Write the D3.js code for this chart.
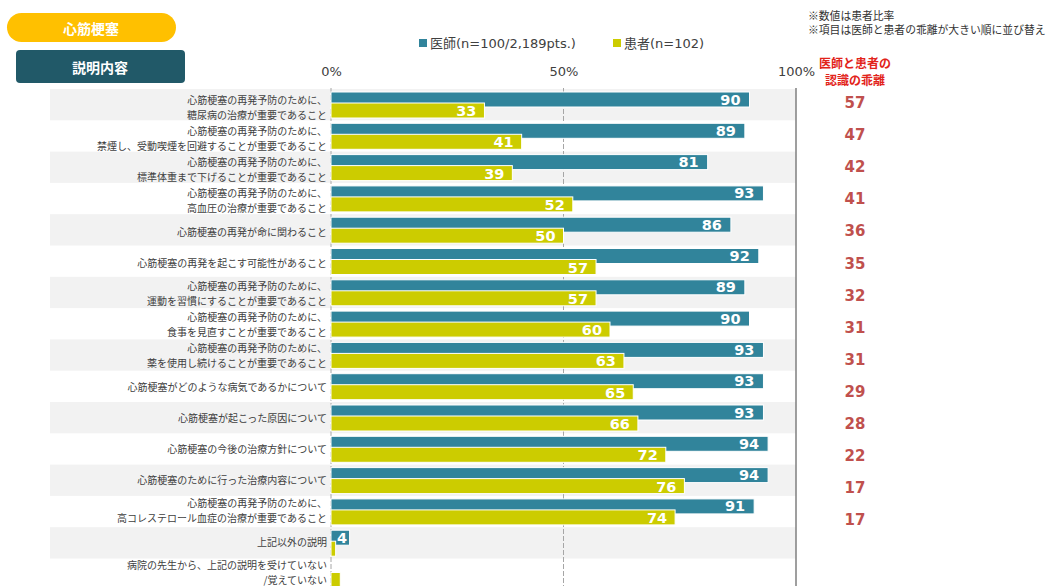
<!DOCTYPE html>
<html><head><meta charset="utf-8">
<script src="https://cdn.jsdelivr.net/npm/d3@7"></script>
<style>
html,body{margin:0;padding:0;background:#fff;}
svg{display:block;font-family:"DejaVu Sans","Noto Sans CJK JP",sans-serif;}
.cat{font-family:"Noto Sans CJK JP",sans-serif;}
</style></head>
<body>
<svg id="chart" width="1047" height="586"></svg>
<script>
const categories = [
  ["心筋梗塞の再発予防のために、","糖尿病の治療が重要であること"],
  ["心筋梗塞の再発予防のために、","禁煙し、受動喫煙を回避することが重要であること"],
  ["心筋梗塞の再発予防のために、","標準体重まで下げることが重要であること"],
  ["心筋梗塞の再発予防のために、","高血圧の治療が重要であること"],
  ["心筋梗塞の再発が命に関わること"],
  ["心筋梗塞の再発を起こす可能性があること"],
  ["心筋梗塞の再発予防のために、","運動を習慣にすることが重要であること"],
  ["心筋梗塞の再発予防のために、","食事を見直すことが重要であること"],
  ["心筋梗塞の再発予防のために、","薬を使用し続けることが重要であること"],
  ["心筋梗塞がどのような病気であるかについて"],
  ["心筋梗塞が起こった原因について"],
  ["心筋梗塞の今後の治療方針について"],
  ["心筋梗塞のために行った治療内容について"],
  ["心筋梗塞の再発予防のために、","高コレステロール血症の治療が重要であること"],
  ["上記以外の説明"],
  ["病院の先生から、上記の説明を受けていない","/覚えていない"]
];
const doctorValues  = [90,89,81,93,86,92,89,90,93,93,93,94,94,91,4,0];
const patientValues = [33,41,39,52,50,57,57,60,63,65,66,72,76,74,1,2];
const gapValues     = [57,47,42,41,36,35,32,31,31,29,28,22,17,17];
const tickValues    = [0,50,100];
const seriesNames   = ["医師(n=100/2,189pts.)","患者(n=102)"];
const notes         = ["※数値は患者比率","※項目は医師と患者の乖離が大きい順に並び替え"];
const gapTitle      = ["医師と患者の","認識の乖離"];
const diseaseTitle  = "心筋梗塞";
const sectionTitle  = "説明内容";

const C_DOC = "#31849B", C_PAT = "#CCCC00", C_GAP = "#C0504D", C_RED = "#E2231A";
const svg = d3.select("#chart");

const x = d3.scaleLinear().domain([0,100]).range([331,796]);
const idx = d3.range(categories.length);
const y = d3.scaleBand().domain(idx).range([89, 89 + 31.3*categories.length]).padding(0);
const yLab = d3.scaleLinear().domain([0, categories.length-1]).range([107, 572]);
const yGap = d3.scaleLinear().domain([0, 13]).range([103, 103 + 32.1*13]);

// header boxes
svg.append("rect").attr("x",7).attr("y",13).attr("width",169).attr("height",29)
  .attr("rx",14.5).attr("fill","#FFC000");
svg.append("text").attr("x",91).attr("y",28).attr("text-anchor","middle")
  .attr("dominant-baseline","central").attr("fill","#fff").attr("font-weight","bold")
  .attr("font-size",14).attr("class","cat").text(diseaseTitle);
svg.append("rect").attr("x",16).attr("y",50).attr("width",169).attr("height",33)
  .attr("rx",4).attr("fill","#215968");
svg.append("text").attr("x",100).attr("y",67).attr("text-anchor","middle")
  .attr("dominant-baseline","central").attr("fill","#fff").attr("font-weight","bold")
  .attr("font-size",14).attr("class","cat").text(sectionTitle);

// notes
svg.selectAll("text.note").data(notes).join("text").attr("class","note cat")
  .attr("x",808).attr("y",(d,i)=>15+i*14).attr("dominant-baseline","central")
  .attr("font-size",10.8).attr("fill","#333").text(d=>d);

// legend
const legX = [419, 613], legTX = [430, 624];
seriesNames.forEach((n,i)=>{
  svg.append("rect").attr("x",legX[i]).attr("y",39).attr("width",8).attr("height",8)
    .attr("fill", i===0?C_DOC:C_PAT);
  svg.append("text").attr("x",legTX[i]).attr("y",43).attr("dominant-baseline","central")
    .attr("font-size",13).attr("fill","#404040").text(n);
});

// bands
svg.append("g").selectAll("rect").data(idx.filter(i=>i%2===0)).join("rect")
  .attr("x",50).attr("y",i=>y(i)).attr("width",x(100)-50).attr("height",y.bandwidth())
  .attr("fill","#F2F2F2");

// grid lines
svg.append("g").selectAll("line").data(tickValues).join("line")
  .attr("x1",d=>x(d)).attr("x2",d=>x(d)).attr("y1",88).attr("y2",586)
  .attr("stroke",d=>d===100?"#7F7F7F":"#A6A6A6")
  .attr("stroke-width",d=>d===100?1.5:1)
  .attr("stroke-dasharray",d=>d===100?null:"5,2");

// axis tick labels
const axis = d3.axisTop(x).tickValues(tickValues).tickSize(0).tickPadding(3).tickFormat(d=>d+"%");
const ag = svg.append("g").attr("transform","translate(0,79)").call(axis);
ag.select(".domain").remove();
ag.selectAll("text").attr("font-size",13).attr("fill","#404040")
  .attr("font-family","DejaVu Sans, sans-serif");

// category labels
const cg = svg.append("g");
categories.forEach((lines,i)=>{
  const cy = yLab(i);
  const t = cg.append("text").attr("class","cat").attr("text-anchor","end")
    .attr("font-size",10).attr("fill","#404040");
  lines.forEach((l,j)=>{
    const off = lines.length===1 ? 0 : (j===0 ? -7.25 : 7.25);
    t.append("tspan").attr("x",327).attr("y",cy+off).attr("dominant-baseline","central").text(l);
  });
});

// bars
svg.append("g").selectAll("rect").data(idx).join("rect")
  .attr("x",x(0)).attr("y",i=>y(i)+3).attr("height",15)
  .attr("width",i=>x(doctorValues[i])-x(0))
  .attr("fill",C_DOC).attr("stroke","#fff").attr("stroke-width",i=>doctorValues[i]>0?1:0);
svg.append("g").selectAll("rect").data(idx).join("rect")
  .attr("x",x(0)).attr("y",i=>y(i)+14).attr("height",15)
  .attr("width",i=>x(patientValues[i])-x(0))
  .attr("fill",C_PAT).attr("stroke","#fff").attr("stroke-width",1);

// value labels
svg.append("g").selectAll("text").data(idx.filter(i=>doctorValues[i]>=3)).join("text")
  .attr("x",i=>Math.max(x(doctorValues[i])-9, x(0)+16)).attr("y",i=>y(i)+10.5)
  .attr("text-anchor","end").attr("dominant-baseline","central")
  .attr("font-size",14.5).attr("font-weight","bold").attr("fill","#fff")
  .text(i=>doctorValues[i]);
svg.append("g").selectAll("text").data(idx.filter(i=>patientValues[i]>=3)).join("text")
  .attr("x",i=>x(patientValues[i])-8).attr("y",i=>y(i)+22)
  .attr("text-anchor","end").attr("dominant-baseline","central")
  .attr("font-size",14.5).attr("font-weight","bold").attr("fill","#fff")
  .text(i=>patientValues[i]);

// gap column
gapTitle.forEach((t,i)=>{
  svg.append("text").attr("class","cat").attr("x",855).attr("y",62+i*17)
    .attr("text-anchor","middle").attr("dominant-baseline","central")
    .attr("font-size",12).attr("font-weight","bold").attr("fill",C_RED).text(t);
});
svg.append("g").selectAll("text").data(gapValues).join("text")
  .attr("x",855).attr("y",(d,i)=>yGap(i)).attr("text-anchor","middle")
  .attr("dominant-baseline","central").attr("font-size",15).attr("font-weight","bold")
  .attr("fill",C_GAP).text(d=>d);
</script>
</body></html>
